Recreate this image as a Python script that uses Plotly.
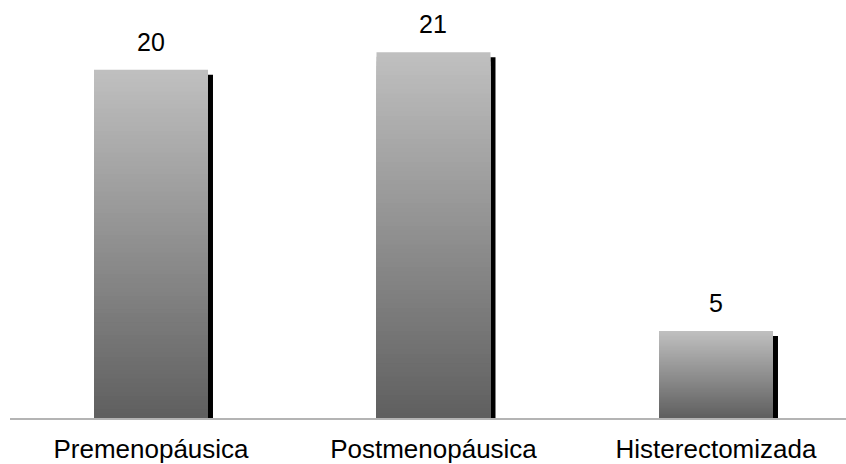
import plotly.graph_objects as go

# Data
categories = ["Premenopáusica", "Postmenopáusica", "Histerectomizada"]
values = [20, 21, 5]

# Styling
BAR_WIDTH = 0.4035          # in category units
SHADOW_DX = 0.0177          # shadow shift to the right (category units)
SHADOW_DY = 0.2857          # shadow shift downward (value units)
TOP_GRAY = 192              # gradient colour at the top of each bar
BOTTOM_GRAY = 95            # gradient colour at the bottom of each bar
STEPS = 80                  # number of gradient steps per bar
FONT = "Liberation Sans, Arial, sans-serif"

fig = go.Figure()

# Drop shadow behind each bar
fig.add_trace(go.Bar(
    x=categories,
    y=values,
    base=[-SHADOW_DY] * len(values),
    width=BAR_WIDTH,
    offset=-BAR_WIDTH / 2 + SHADOW_DX,
    marker=dict(color="#000000", line=dict(width=0)),
    cliponaxis=False,
    hoverinfo="skip",
    showlegend=False,
))

# Vertical gradient: nested bars from full height (lightest) down to the
# shortest (darkest), each one painted over the previous.
for k in range(STEPS, 0, -1):
    frac = (k - 0.5) / STEPS
    g = round(BOTTOM_GRAY + (TOP_GRAY - BOTTOM_GRAY) * frac)
    fig.add_trace(go.Bar(
        x=categories,
        y=[v * k / STEPS for v in values],
        width=BAR_WIDTH,
        offset=-BAR_WIDTH / 2,
        marker=dict(color=f"rgb({g},{g},{g})", line=dict(width=0)),
        hoverinfo="skip",
        showlegend=False,
    ))

# Value labels above the bars
for c, v in zip(categories, values):
    fig.add_annotation(
        x=c, y=v, text=str(v), showarrow=False,
        xanchor="center", yanchor="bottom", yshift=12,
        font=dict(family=FONT, size=25, color="#000000"),
    )

fig.update_layout(
    width=846, height=464,
    margin=dict(l=10, r=0, t=0, b=44),
    barmode="overlay",
    paper_bgcolor="white",
    plot_bgcolor="white",
    font=dict(family=FONT, size=26, color="#000000"),
    xaxis=dict(
        type="category",
        range=[-0.4991, 2.4602],
        showline=True, linecolor="#b4b4b4", linewidth=2,
        ticks="", showgrid=False, zeroline=False,
        tickfont=dict(size=26, color="#000000"),
        ticklabelstandoff=7,
    ),
    yaxis=dict(
        range=[0, 24],
        visible=False, showgrid=False, zeroline=False,
    ),
)

fig.write_html("out.html")
